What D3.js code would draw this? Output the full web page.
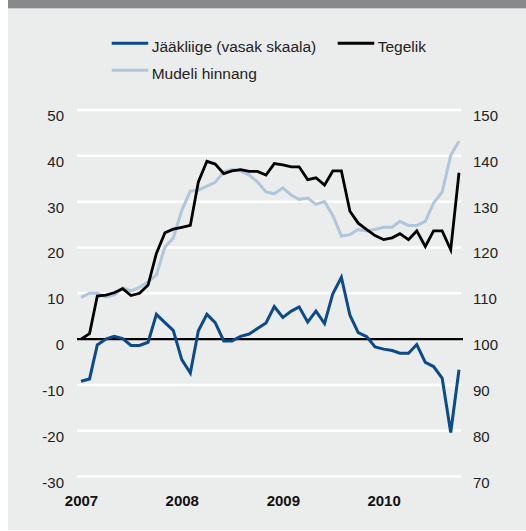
<!DOCTYPE html>
<html><head><meta charset="utf-8">
<script src="https://cdn.jsdelivr.net/npm/d3@7"></script>
<style>
html,body{margin:0;padding:0;background:#fff;}
svg{display:block;}
text{font-family:"Liberation Sans",Arial,Helvetica,sans-serif;}
</style></head>
<body>
<script>
// Data: monthly, Jan 2007 .. Oct 2010
const months = d3.range(46).map(i => new Date(2007, i, 1));
const gap = [-9.2,-8.7,-1.3,0.0,0.6,0.1,-1.4,-1.4,-0.7,5.4,3.6,1.9,-4.5,-7.4,1.8,5.4,3.6,-0.4,-0.4,0.6,1.1,2.3,3.5,7.1,4.7,6.1,7.0,3.7,6.1,3.4,9.9,13.5,5.2,1.4,0.5,-1.7,-2.2,-2.5,-3.1,-3.1,-1.2,-5.1,-6.0,-8.5,-20.4,-6.7];
const actual = [100,101.2,109.4,109.6,110.1,111.0,109.5,110.0,111.8,118.7,123.2,124.0,124.4,124.8,134.3,138.8,138.2,136.1,136.7,137.0,136.6,136.6,135.8,138.3,138.0,137.6,137.6,134.8,135.2,133.6,136.7,136.7,127.9,125.3,123.9,122.6,121.7,122.1,123.0,121.7,123.6,120.2,123.6,123.6,119.5,136.3];
const model = [109.1,110.0,110.0,109.2,109.6,111.2,110.5,111.3,112.5,114.0,120.1,122.0,128.1,132.3,132.5,133.4,134.2,136.5,137.0,136.7,135.8,134.3,132.1,131.7,133.0,131.4,130.5,130.8,129.4,130.0,127.0,122.5,122.8,123.9,123.6,123.9,124.4,124.4,125.7,124.8,124.8,125.7,129.7,132.1,140.1,143.2];
const leftTicks = [-30,-20,-10,0,10,20,30,40,50];
const rightTicks = [70,80,90,100,110,120,130,140,150];
const yearLabels = ["2007","2008","2009","2010"];
const legendLabels = ["Jääkliige (vasak skaala)", "Tegelik", "Mudeli hinnang"];

const W = 526, H = 531;
const svg = d3.select("body").append("svg").attr("width", W).attr("height", H);

// background panel and top bar
svg.append("rect").attr("x", 8).attr("y", 0).attr("width", W - 8).attr("height", 530).attr("fill", "#ebecec");
svg.append("rect").attr("x", 8).attr("y", 0).attr("width", W - 8).attr("height", 8.3).attr("fill", "#88898b");

const x = d3.scaleTime().domain([months[0], months[months.length - 1]]).range([81, 459]);
const yL = d3.scaleLinear().domain([-30, 50]).range([476.5, 110]);
const yR = d3.scaleLinear().domain([70, 150]).range([476.5, 110]);
const x0 = 77, x1 = 461;

// gridlines
svg.append("g").selectAll("line").data(leftTicks.filter(d => d !== 0)).join("line")
  .attr("x1", x0).attr("x2", x1).attr("y1", d => yL(d)).attr("y2", d => yL(d))
  .attr("stroke", "#ffffff").attr("stroke-width", 2.5);

const fmt = d => String(d); // plain hyphen-minus as in the original

// left axis labels
const leftAxis = d3.axisLeft(yL).tickValues(leftTicks).tickSize(0).tickPadding(0).tickFormat(fmt);
const gl = svg.append("g").attr("transform", "translate(64,0)").call(leftAxis);
gl.select(".domain").remove();
gl.selectAll("text").attr("font-size", 15).attr("fill", "#222").attr("dy", "0.7em")
  .style("font-family", '"Liberation Sans",Arial,sans-serif');

const rightAxis = d3.axisRight(yR).tickValues(rightTicks).tickSize(0).tickPadding(0).tickFormat(fmt);
const gr = svg.append("g").attr("transform", "translate(473,0)").call(rightAxis);
gr.select(".domain").remove();
gr.selectAll("text").attr("font-size", 15).attr("fill", "#222").attr("dy", "0.7em")
  .style("font-family", '"Liberation Sans",Arial,sans-serif');

// x axis year labels
const yearDates = yearLabels.map(y => new Date(+y, 0, 1));
const bottomAxis = d3.axisBottom(x).tickValues(yearDates).tickSize(0).tickPadding(0).tickFormat(d3.timeFormat("%Y"));
const gb = svg.append("g").attr("transform", "translate(0,495)").call(bottomAxis);
gb.select(".domain").remove();
gb.selectAll("text").attr("font-size", 15).attr("font-weight", "bold").attr("fill", "#111").attr("dy", "0.72em")
  .style("font-family", '"Liberation Sans",Arial,sans-serif');

// zero line
svg.append("line").attr("x1", x0).attr("x2", x1 + 2).attr("y1", yL(0)).attr("y2", yL(0))
  .attr("stroke", "#000").attr("stroke-width", 2.2);

const colBlue = "#0b4a8b", colBlack = "#000000", colLight = "#b0c6dc";

const lineL = d3.line().x((d, i) => x(months[i])).y(d => yL(d));
const lineR = d3.line().x((d, i) => x(months[i])).y(d => yR(d));

svg.append("path").datum(model).attr("d", lineR).attr("fill", "none").attr("stroke", colLight).attr("stroke-width", 3).attr("stroke-linejoin", "miter");
svg.append("path").datum(actual).attr("d", lineR).attr("fill", "none").attr("stroke", colBlack).attr("stroke-width", 2.8).attr("stroke-linejoin", "miter");
svg.append("path").datum(gap).attr("d", lineL).attr("fill", "none").attr("stroke", colBlue).attr("stroke-width", 3).attr("stroke-linejoin", "miter");

// legend
const legend = [
  {label: legendLabels[0], color: colBlue, lx: 111.7, ly: 43.3},
  {label: legendLabels[1], color: colBlack, lx: 337.7, ly: 43.3},
  {label: legendLabels[2], color: colLight, lx: 111.7, ly: 70.3}
];
const lg = svg.append("g").selectAll("g").data(legend).join("g");
lg.append("line").attr("x1", d => d.lx).attr("x2", d => d.lx + 36.5).attr("y1", d => d.ly).attr("y2", d => d.ly)
  .attr("stroke", d => d.color).attr("stroke-width", 3);
lg.append("text").attr("x", d => d.lx + 40).attr("y", d => d.ly + 9).attr("font-size", 15.5).attr("fill", "#222")
  .text(d => d.label);
</script>
</body></html>
